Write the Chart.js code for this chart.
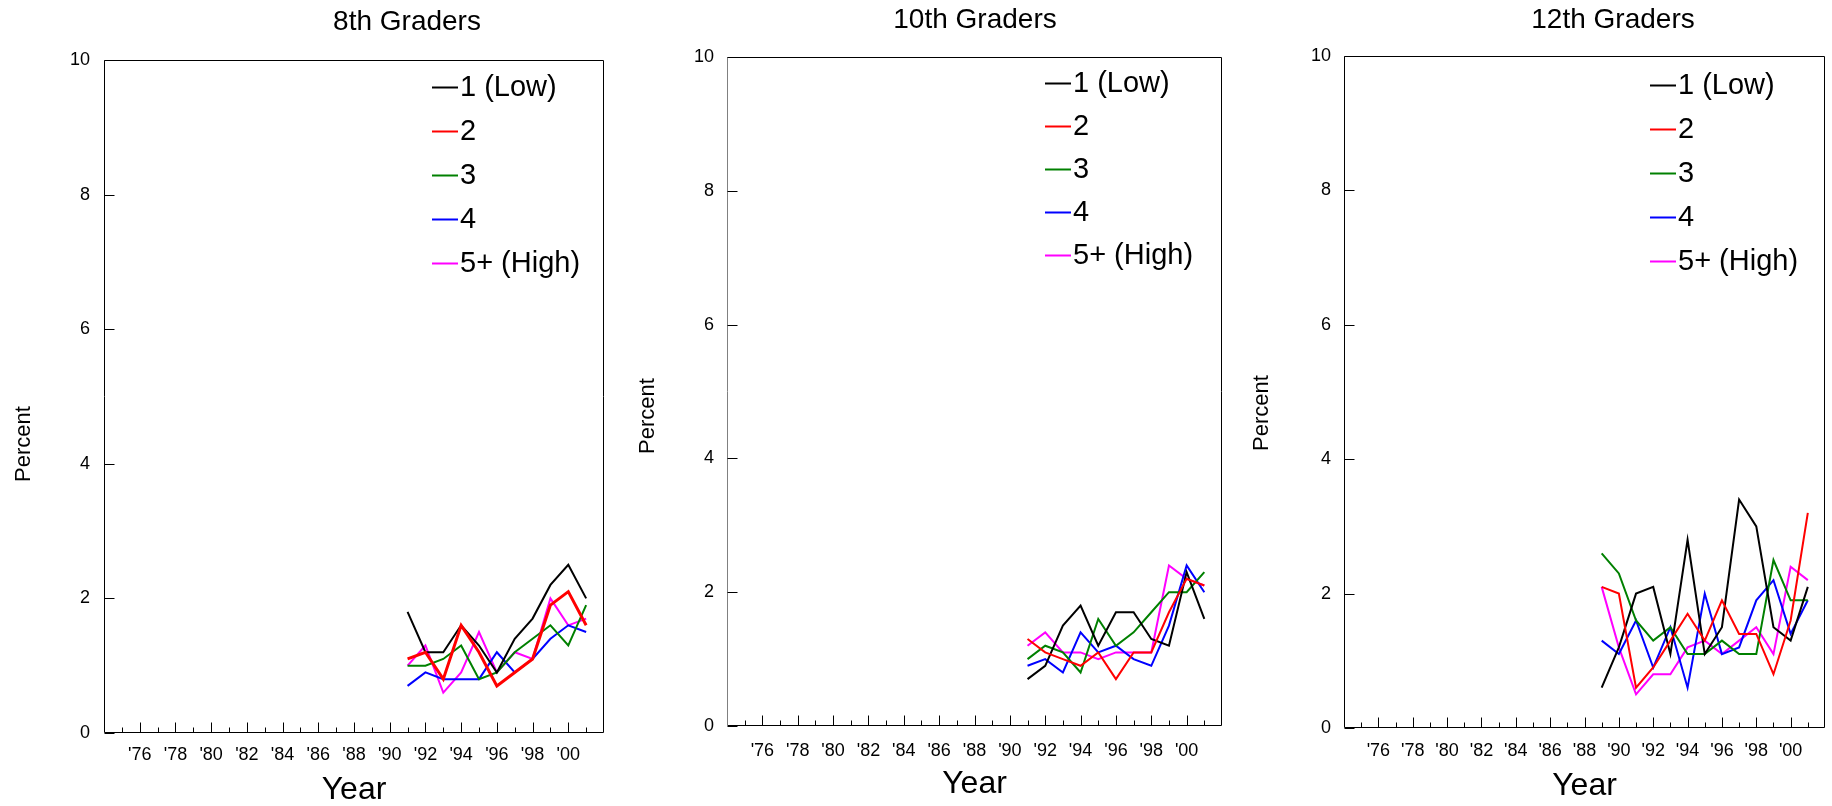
<!DOCTYPE html>
<html lang="en">
<head>
<meta charset="UTF-8">
<title>Percent by grade</title>
<script src="https://cdn.jsdelivr.net/npm/chart.js@4.4.0/dist/chart.umd.min.js"></script>
<style>
  html, body { margin: 0; padding: 0; background: #fff; overflow: hidden; }
  body { width: 1832px; height: 806px; position: relative; }
  canvas { position: absolute; top: 0; }
</style>
</head>
<body>
<canvas id="c8" width="814" height="806" style="left:0px"></canvas>
<canvas id="c10" width="710" height="806" style="left:620px"></canvas>
<canvas id="c12" width="746" height="806" style="left:1240px"></canvas>
<script>
const FONT = "'Liberation Sans', Arial, sans-serif";

const seriesNames = ['1 (Low)', '2', '3', '4', '5+ (High)'];
const seriesColors = ['#000000', '#ff0000', '#008000', '#0000ff', '#ff00ff'];

const yTickValues = [0, 2, 4, 6, 8, 10];
const xTickYears = [1976, 1978, 1980, 1982, 1984, 1986, 1988, 1990, 1992, 1994, 1996, 1998, 2000];
const xTickLabels = ["'76", "'78", "'80", "'82", "'84", "'86", "'88", "'90", "'92", "'94", "'96", "'98", "'00"];

// 8th graders
const years8 = [1991, 1992, 1993, 1994, 1995, 1996, 1997, 1998, 1999, 2000, 2001];
const low8   = [1.8, 1.2, 1.2, 1.6, 1.3, 0.9, 1.4, 1.7, 2.2, 2.5, 2.0];
const two8   = [1.1, 1.2, 0.8, 1.6, 1.2, 0.7, 0.9, 1.1, 1.9, 2.1, 1.6];
const three8 = [1.0, 1.0, 1.1, 1.3, 0.8, 0.9, 1.2, 1.4, 1.6, 1.3, 1.9];
const four8  = [0.7, 0.9, 0.8, 0.8, 0.8, 1.2, 0.9, 1.1, 1.4, 1.6, 1.5];
const high8  = [1.0, 1.3, 0.6, 0.9, 1.5, 0.9, 1.2, 1.1, 2.0, 1.6, 1.7];

// 10th graders
const years10 = [1991, 1992, 1993, 1994, 1995, 1996, 1997, 1998, 1999, 2000, 2001];
const low10   = [0.7, 0.9, 1.5, 1.8, 1.2, 1.7, 1.7, 1.3, 1.2, 2.3, 1.6];
const two10   = [1.3, 1.1, 1.0, 0.9, 1.1, 0.7, 1.1, 1.1, 1.7, 2.2, 2.1];
const three10 = [1.0, 1.2, 1.1, 0.8, 1.6, 1.2, 1.4, 1.7, 2.0, 2.0, 2.3];
const four10  = [0.9, 1.0, 0.8, 1.4, 1.1, 1.2, 1.0, 0.9, 1.5, 2.4, 2.0];
const high10  = [1.2, 1.4, 1.1, 1.1, 1.0, 1.1, 1.1, 1.1, 2.4, 2.2, 2.1];

// 12th graders
const years12 = [1989, 1990, 1991, 1992, 1993, 1994, 1995, 1996, 1997, 1998, 1999, 2000, 2001];
const low12   = [0.6, 1.2, 2.0, 2.1, 1.1, 2.8, 1.1, 1.5, 3.4, 3.0, 1.5, 1.3, 2.1];
const two12   = [2.1, 2.0, 0.6, 0.9, 1.3, 1.7, 1.3, 1.9, 1.4, 1.4, 0.8, 1.6, 3.2];
const three12 = [2.6, 2.3, 1.6, 1.3, 1.5, 1.1, 1.1, 1.3, 1.1, 1.1, 2.5, 1.9, 1.9];
const four12  = [1.3, 1.1, 1.6, 0.9, 1.5, 0.6, 2.0, 1.1, 1.2, 1.9, 2.2, 1.4, 1.9];
const high12  = [2.1, 1.2, 0.5, 0.8, 0.8, 1.2, 1.3, 1.1, 1.3, 1.5, 1.1, 2.4, 2.2];

// box round the plot + tick marks pointing inward
const frame = {
  id: 'frame',
  afterDatasetsDraw(chart, args, opts) {
    const {ctx, chartArea: a, scales: {x, y}} = chart;
    const l = Math.round(a.left) + 0.5, r = Math.round(a.right) - 0.5;
    const t = Math.round(a.top) + 0.5, b = Math.round(a.bottom) - 0.5;
    ctx.save();
    ctx.lineWidth = 1;
    ctx.strokeStyle = '#000';
    ctx.beginPath();
    ctx.moveTo(l, t); ctx.lineTo(r, t); ctx.lineTo(r, b); ctx.lineTo(l, b);
    ctx.stroke();
    ctx.strokeStyle = opts.leftColor || '#000';
    ctx.beginPath(); ctx.moveTo(l, t); ctx.lineTo(l, b); ctx.stroke();
    ctx.strokeStyle = '#000';
    ctx.beginPath();
    yTickValues.forEach(v => {
      const py = Math.round(y.getPixelForValue(v)) + 0.5;
      ctx.moveTo(l, py); ctx.lineTo(l + 10, py);
    });
    for (let yr = x.min + 1; yr < x.max; yr++) {
      const px = Math.round(x.getPixelForValue(yr)) + 0.5;
      ctx.moveTo(px, b); ctx.lineTo(px, b - (yr % 2 ? 5 : 10));
    }
    ctx.stroke();
    // rotated axis name
    ctx.font = opts.labelSize + 'px ' + FONT;
    ctx.fillStyle = '#000';
    ctx.textAlign = 'center';
    ctx.textBaseline = 'middle';
    ctx.translate(opts.labelX, opts.labelY);
    ctx.rotate(-Math.PI / 2);
    ctx.fillText('Percent', 0, 0);
    ctx.restore();
  }
};

// legend sitting inside the plot
const boxLegend = {
  id: 'boxLegend',
  afterDraw(chart, args, opts) {
    const ctx = chart.ctx;
    ctx.save();
    ctx.font = opts.size + 'px ' + FONT;
    ctx.textBaseline = 'middle';
    ctx.textAlign = 'left';
    chart.data.datasets.forEach((ds, i) => {
      const y = Math.round(opts.y + i * opts.gap) + 0.5;
      ctx.strokeStyle = ds.borderColor;
      ctx.lineWidth = 2;
      ctx.beginPath(); ctx.moveTo(opts.x, y); ctx.lineTo(opts.x + 26, y); ctx.stroke();
      ctx.fillStyle = '#000';
      ctx.fillText(ds.label, opts.x + 28, y);
    });
    ctx.restore();
  }
};

function makeChart(id, p) {
  const datasets = p.series.map((vals, i) => ({
    label: seriesNames[i],
    data: vals.map((v, k) => ({x: p.years[k], y: v})),
    borderColor: seriesColors[i],
    backgroundColor: seriesColors[i],
    borderWidth: i === 1 ? p.redWidth : 2,
    order: i === 1 ? -1 : i,
    pointRadius: 0,
    tension: 0,
    fill: false
  }));
  return new Chart(document.getElementById(id), {
    type: 'line',
    data: {datasets: datasets},
    plugins: [frame, boxLegend],
    options: {
      responsive: false,
      devicePixelRatio: 1,
      animation: false,
      layout: {padding: 0},
      plugins: {
        legend: {display: false},
        tooltip: {enabled: false},
        title: {
          display: true, text: p.title, color: '#000',
          font: {family: FONT, size: 28, weight: 'normal', lineHeight: 1.2},
          padding: {top: p.titleTop, bottom: p.titleBottom}
        },
        frame: {leftColor: p.leftColor, labelX: p.labelX, labelY: p.labelY, labelSize: 22},
        boxLegend: {x: p.legendX, y: p.legendY, gap: p.legendGap, size: 29}
      },
      scales: {
        x: {
          type: 'linear', min: 1974, max: 2002,
          afterBuildTicks: s => { s.ticks = xTickYears.map(v => ({value: v})); },
          afterFit: s => { s.height = p.xHeight; },
          grid: {display: false, drawTicks: false},
          border: {display: false},
          ticks: {
            color: '#000', padding: p.xPad, maxRotation: 0, autoSkip: false,
            font: {family: FONT, size: 18},
            callback: (v, i) => xTickLabels[i]
          },
          title: {
            display: true, text: 'Year', color: '#000',
            font: {family: FONT, size: 32, lineHeight: 1},
            padding: {top: 0, bottom: p.yearPad}
          }
        },
        y: {
          min: 0, max: 10,
          afterBuildTicks: s => { s.ticks = yTickValues.map(v => ({value: v})); },
          afterFit: s => { s.width = p.yWidth; },
          grid: {display: false, drawTicks: false},
          border: {display: false},
          ticks: {color: '#000', padding: p.yPad, font: {family: FONT, size: 18}}
        },
        // empty right-hand axis that only keeps the space right of the plot
        gap: {
          type: 'linear', position: 'right', display: true,
          afterFit: s => { s.width = p.rightGap; },
          grid: {display: false, drawTicks: false},
          border: {display: false},
          ticks: {display: false}
        }
      }
    }
  });
}

makeChart('c8', {
  title: '8th Graders', years: years8, series: [low8, two8, three8, four8, high8],
  yWidth: 104, rightGap: 210, titleTop: 5, titleBottom: 21.4, xHeight: 73,
  xPad: 11, yPad: 14, yearPad: 0, labelX: 24, labelY: 444, redWidth: 3,
  legendX: 432, legendY: 87, legendGap: 44
});
makeChart('c10', {
  title: '10th Graders', years: years10, series: [low10, two10, three10, four10, high10],
  yWidth: 107, rightGap: 108, titleTop: 3, titleBottom: 20.4, xHeight: 80,
  xPad: 13.8, yPad: 13, yearPad: 6, labelX: 28, labelY: 416, redWidth: 2,
  legendX: 425, legendY: 83, legendGap: 43, leftColor: '#808080'
});
makeChart('c12', {
  title: '12th Graders', years: years12, series: [low12, two12, three12, four12, high12],
  yWidth: 104, rightGap: 161, titleTop: 3, titleBottom: 19.4, xHeight: 78,
  xPad: 11.8, yPad: 13, yearPad: 4, labelX: 22, labelY: 413, redWidth: 2,
  legendX: 410, legendY: 85, legendGap: 44
});
</script>
</body>
</html>
